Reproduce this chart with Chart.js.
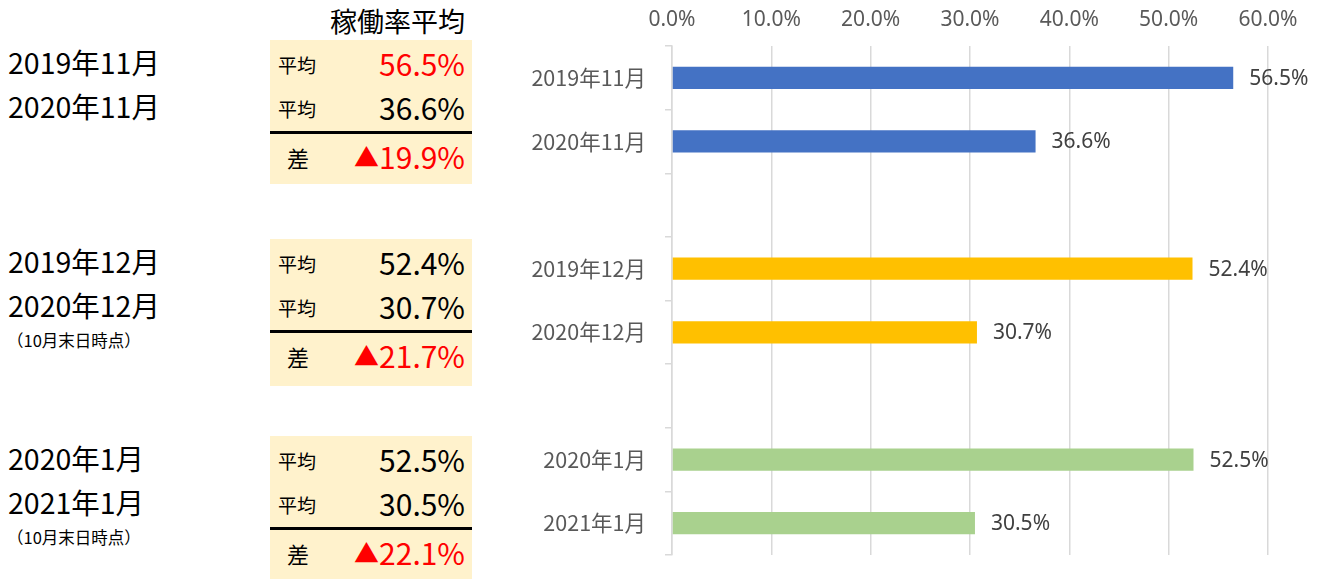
<!DOCTYPE html>
<html><head><meta charset="utf-8">
<script src="https://cdn.jsdelivr.net/npm/chart.js@4"></script>
<style>
html,body{margin:0;padding:0;background:#fff;}
body{width:1323px;height:580px;position:relative;overflow:hidden;font-family:"Noto Sans CJK JP","Noto Sans",sans-serif;}
#chartWrap{position:absolute;left:480px;top:0;width:843px;height:580px;}
.abs{position:absolute;white-space:nowrap;}
.bg{position:absolute;background:#FFF2CC;}
.line{position:absolute;background:#000;}
</style></head><body>
<div id="left"></div>
<div id="chartWrap"><canvas id="c" width="843" height="580"></canvas></div>
<script>
// ---- data ----
const categories = ['2019年11月','2020年11月','','2019年12月','2020年12月','','2020年1月','2021年1月'];
const rates = [56.5, 36.6, null, 52.4, 30.7, null, 52.5, 30.5];
const barColors = ['#4472C4','#4472C4','#4472C4','#FFC000','#FFC000','#FFC000','#A9D18E','#A9D18E'];
const xTicks = [0,10,20,30,40,50,60];

const tableTitle = '稼働率平均';
const periodA = ['2019年11月','2019年12月','2020年1月'];
const periodB = ['2020年11月','2020年12月','2021年1月'];
const notes = ['','（10月末日時点）','（10月末日時点）'];
const avgA = ['56.5%','52.4%','52.5%'];
const avgB = ['36.6%','30.7%','30.5%'];
const diffs = ['▲19.9%','▲21.7%','▲22.1%'];
const avgAColors = ['#FF0000','#000000','#000000'];

// ---- left panel ----
const left = document.getElementById('left');
function add(cls, text, css){ const d=document.createElement('div'); d.className=cls; if(text) d.textContent=text; Object.assign(d.style, css); left.appendChild(d); return d; }
add('abs', tableTitle, {left:'270px', width:'195px', textAlign:'right', top:'3px', fontSize:'27px', lineHeight:'36px', color:'#000'});
const tops = [40, 239, 436];
const heights = [144, 147, 143];
for (let i=0;i<3;i++){
  const t = tops[i];
  add('bg','',{left:'270px', top:t+'px', width:'202px', height:heights[i]+'px'});
  add('line','',{left:'270px', top:(t+91)+'px', width:'202px', height:'3px'});
  add('abs', periodA[i], {left:'8px', top:(t+22-19)+'px', fontSize:'28.5px', lineHeight:'38px', color:'#000'});
  add('abs', periodB[i], {left:'8px', top:(t+66-19)+'px', fontSize:'28.5px', lineHeight:'38px', color:'#000'});
  if (notes[i]) add('abs', notes[i], {left:'7px', top:(t+101-12)+'px', fontSize:'16.5px', lineHeight:'24px', color:'#000'});
  add('abs', '平均', {left:'278px', top:(t+25-14)+'px', fontSize:'19px', lineHeight:'28px', color:'#000'});
  add('abs', '平均', {left:'278px', top:(t+69-14)+'px', fontSize:'19px', lineHeight:'28px', color:'#000'});
  add('abs', '差', {left:'287px', top:(t+117-16)+'px', fontSize:'22px', lineHeight:'32px', color:'#000'});
  add('abs', avgA[i], {left:'320px', width:'145px', textAlign:'right', top:(t+23-20)+'px', fontSize:'30px', lineHeight:'40px', color:avgAColors[i]});
  add('abs', avgB[i], {left:'320px', width:'145px', textAlign:'right', top:(t+67-20)+'px', fontSize:'30px', lineHeight:'40px', color:'#000'});
  const d = add('abs', '', {left:'320px', width:'145px', textAlign:'right', top:(t+116-20)+'px', fontSize:'30px', lineHeight:'40px', color:'#FF0000'});
  const tri = document.createElement('span'); tri.textContent = diffs[i].charAt(0); tri.style.fontSize='25px'; tri.style.verticalAlign='2px';
  d.appendChild(tri); d.appendChild(document.createTextNode(diffs[i].slice(1)));
}

// ---- chart ----
const valueLabels = {
  id:'valueLabels',
  afterDatasetsDraw(chart){
    const ctx = chart.ctx;
    const meta = chart.getDatasetMeta(0);
    ctx.save();
    ctx.font = '21px "Noto Sans", sans-serif';
    ctx.fillStyle = '#404040';
    ctx.textAlign = 'left';
    ctx.textBaseline = 'middle';
    meta.data.forEach((el,i)=>{
      const v = rates[i];
      if (v === null) return;
      ctx.fillText(v.toFixed(1)+'%', el.x + 16, el.y + 1);
    });
    ctx.restore();
  }
};

new Chart(document.getElementById('c'), {
  type:'bar',
  data:{ labels:categories, datasets:[{ data:rates, backgroundColor:barColors, barPercentage:0.35, categoryPercentage:1 }]},
  options:{
    indexAxis:'y',
    responsive:false,
    animation:false,
    layout:{padding:{top:0,right:55,bottom:25,left:0}},
    plugins:{legend:{display:false}, tooltip:{enabled:false}},
    scales:{
      x:{
        position:'top', min:0, max:60,
        afterBuildTicks(s){ s.ticks = xTicks.map(v=>({value:v})); },
        afterFit(s){ s.height = 46; s.paddingLeft = 0; s.paddingRight = 0; },
        grid:{color:'#D9D9D9', lineWidth:1.5, drawTicks:false},
        border:{display:false},
        ticks:{color:'#595959', font:{family:'"Noto Sans", sans-serif', size:21}, padding:13, callback:v=>Number(v).toFixed(1)+'%'}
      },
      y:{
        afterFit(s){ s.width = 192; s.paddingTop = 0; s.paddingBottom = 0; },
        grid:{display:true, drawOnChartArea:false, drawTicks:true, tickLength:7, color:'#D9D9D9', lineWidth:1.5},
        border:{display:true, color:'#D9D9D9', width:1.5},
        ticks:{color:'#595959', font:{family:'"Noto Sans CJK JP", sans-serif', size:21.5}, padding:19}
      }
    }
  },
  plugins:[valueLabels]
});
</script>
</body></html>
